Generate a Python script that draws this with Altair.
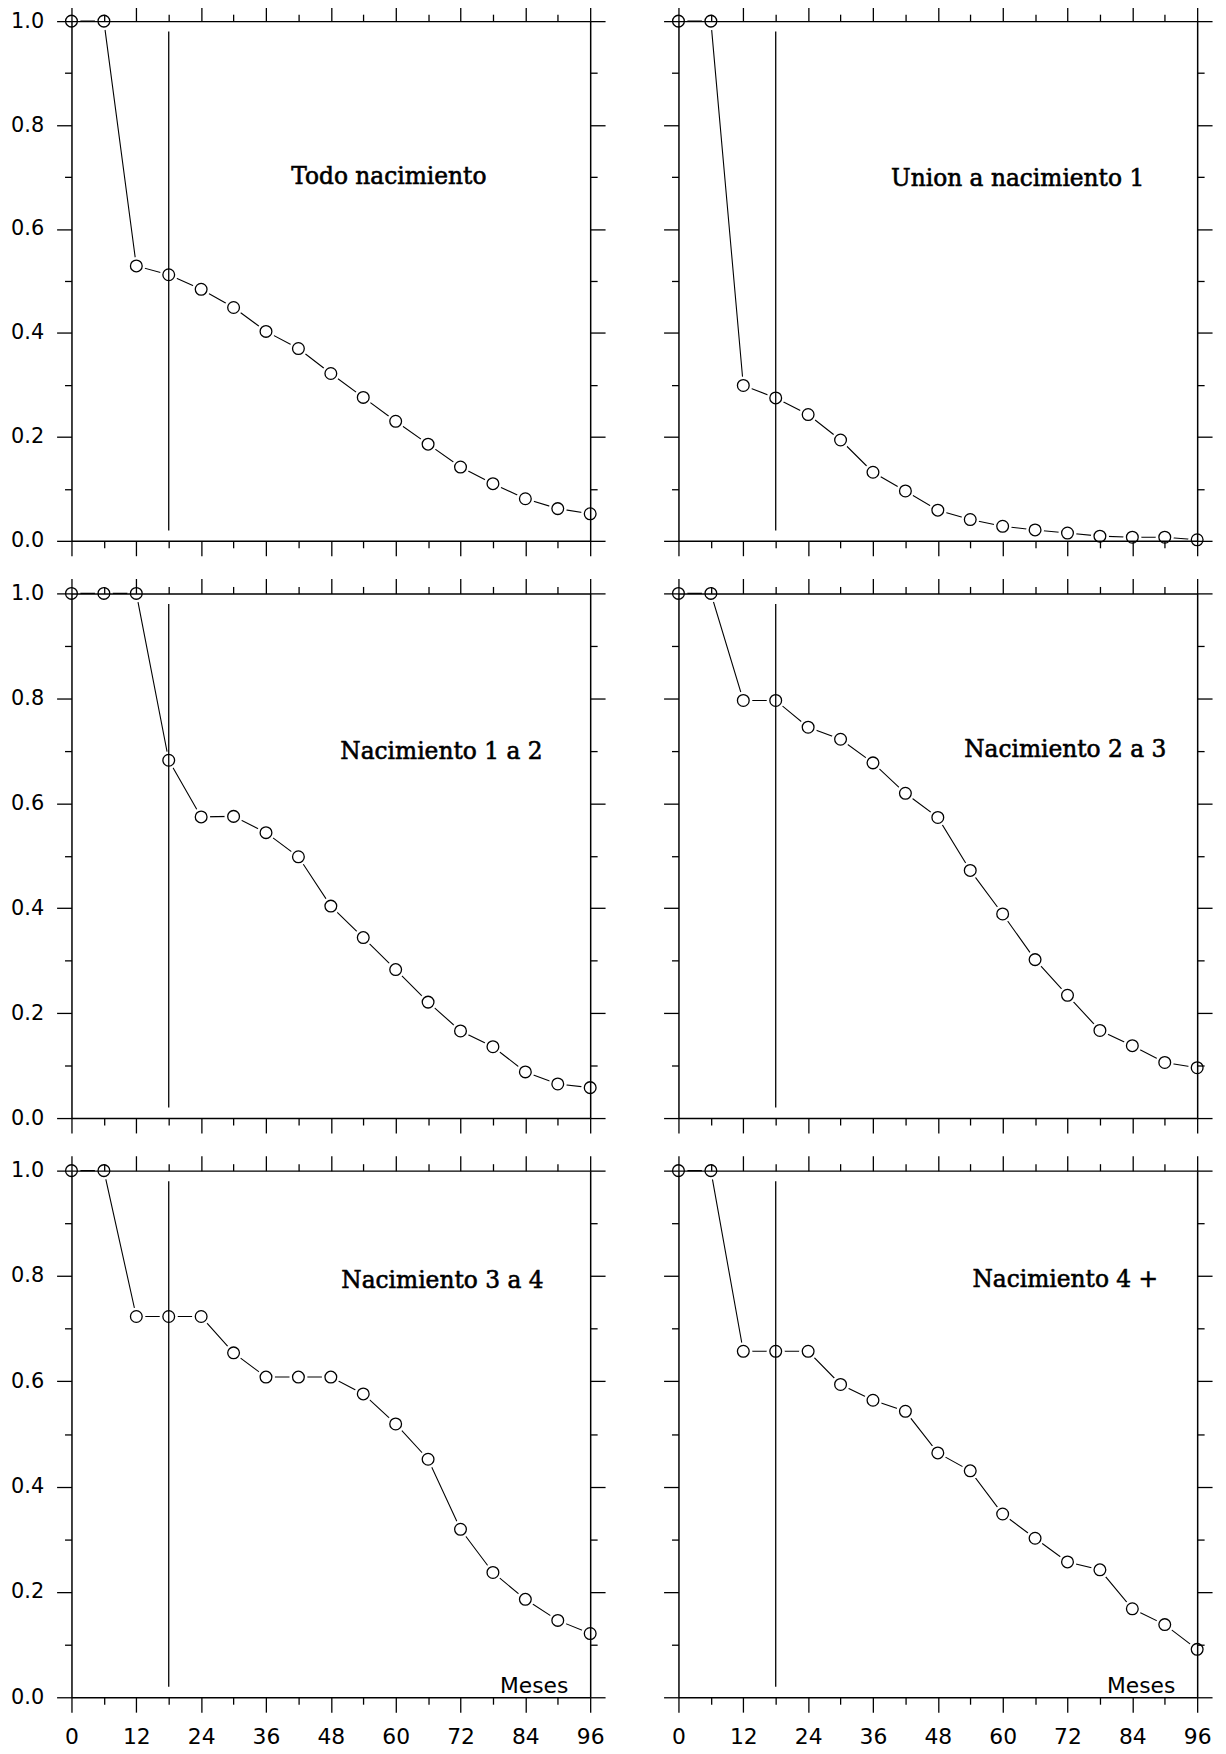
import altair as alt
import pandas as pd

# ---------------- data ----------------
months = [0, 6, 12, 18, 24, 30, 36, 42, 48, 54, 60, 66, 72, 78, 84, 90, 96]

todo_nacimiento = [1.0, 1.0, 0.529, 0.512, 0.484, 0.449, 0.403, 0.370, 0.322,
                   0.276, 0.230, 0.186, 0.142, 0.110, 0.081, 0.062, 0.052]
union_nac1 = [1.0, 1.0, 0.299, 0.275, 0.243, 0.194, 0.132, 0.096, 0.059,
              0.041, 0.028, 0.021, 0.015, 0.009, 0.007, 0.007, 0.002]
nac_1_2 = [1.0, 1.0, 1.0, 0.682, 0.574, 0.575, 0.544, 0.498, 0.404,
           0.344, 0.283, 0.221, 0.166, 0.136, 0.088, 0.065, 0.058]
nac_2_3 = [1.0, 1.0, 0.796, 0.796, 0.745, 0.722, 0.677, 0.619, 0.573,
           0.472, 0.389, 0.302, 0.234, 0.167, 0.138, 0.106, 0.096]
nac_3_4 = [1.0, 1.0, 0.723, 0.723, 0.723, 0.654, 0.608, 0.608, 0.608,
           0.576, 0.519, 0.452, 0.319, 0.237, 0.186, 0.146, 0.121]
nac_4_mas = [1.0, 1.0, 0.657, 0.657, 0.657, 0.594, 0.564, 0.543, 0.464,
             0.430, 0.348, 0.302, 0.257, 0.242, 0.168, 0.138, 0.091]

series = [todo_nacimiento, union_nac1, nac_1_2, nac_2_3, nac_3_4, nac_4_mas]
titles = ["Todo nacimiento", "Union a nacimiento 1", "Nacimiento 1 a 2",
          "Nacimiento 2 a 3", "Nacimiento 3 a 4", "Nacimiento 4 +"]
x_axis_word = "Meses"

ref_month = [18]
ref_low = [0.02]
ref_high = [0.98]

x_major = [0, 12, 24, 36, 48, 60, 72, 84, 96]
x_minor = [6, 18, 30, 42, 54, 66, 78, 90]
y_major = [0.0, 0.2, 0.4, 0.6, 0.8, 1.0]
y_minor = [0.1, 0.3, 0.5, 0.7, 0.9]

# ---------------- layout / style ----------------
PANEL_W = 523
ROW_H = [524, 529, 531]
TITLE_POS = [(320, 164), (342, 166), (373, 167), (390, 165), (374, 118), (390, 117)]
SANS = "DejaVu Sans"
SERIF = "DejaVu Serif"


def axis(orient, values, size, labels, domain, fmt=None, font_size=20, pad=13):
    kw = dict(orient=orient, values=values, tickSize=size, labels=labels,
              domain=domain, domainColor="black", domainWidth=1.5,
              tickColor="black", tickWidth=1.3, grid=False, title=None,
              zindex=1, labelFont=SANS, labelFontSize=font_size,
              labelColor="black", labelPadding=pad, labelFlush=False,
              labelOverlap=False)
    if fmt:
        kw["format"] = fmt
    return alt.Axis(**kw)


def panel(idx):
    col = idx % 2
    row = idx // 2
    h = ROW_H[row]
    show_x = row == 2
    show_y = col == 0

    df = pd.DataFrame({"m": months, "p": series[idx]})
    xs = alt.Scale(domain=[0, 96], nice=False, zero=False)
    ys = alt.Scale(domain=[0, 1], nice=False, zero=False)

    base = alt.Chart(df)
    line = base.mark_line(color="black", strokeWidth=1.1).encode(
        x=alt.X("m:Q", scale=xs,
                axis=axis("bottom", x_major, 15, show_x, True, font_size=22, pad=15)),
        y=alt.Y("p:Q", scale=ys,
                axis=axis("left", y_major, 15, show_y, True, fmt=".1f", font_size=21, pad=13)),
    )
    gaps = base.mark_circle(color="white", size=330, opacity=1).encode(
        x=alt.X("m:Q", scale=xs, axis=axis("bottom", x_minor, 7, False, False)),
        y=alt.Y("p:Q", scale=ys, axis=axis("left", y_minor, 7, False, False)),
    )
    dots = base.mark_point(shape="circle", filled=True, fill="white",
                           stroke="black", strokeWidth=1.3, size=140,
                           opacity=1).encode(
        x=alt.X("m:Q", scale=xs, axis=axis("top", x_major, 15, False, True)),
        y=alt.Y("p:Q", scale=ys, axis=axis("right", y_major, 15, False, True)),
    )
    ref_df = pd.DataFrame({"m": ref_month, "p": ref_low, "p2": ref_high})
    rule = alt.Chart(ref_df).mark_rule(color="black", strokeWidth=1.3).encode(
        x=alt.X("m:Q", scale=xs, axis=axis("top", x_minor, 7, False, False)),
        y=alt.Y("p:Q", scale=ys, axis=axis("right", y_minor, 7, False, False)),
        y2="p2:Q",
    )
    tx, ty = TITLE_POS[idx]
    title = alt.Chart(pd.DataFrame({"t": [titles[idx]]})).mark_text(
        font=SERIF, fontSize=23.5, align="center", baseline="alphabetic",
        color="black", stroke="black", strokeWidth=0.6).encode(
        text="t:N", x=alt.value(tx), y=alt.value(ty))

    layers = [line, gaps, dots, rule, title]
    if show_x:
        meses = alt.Chart(pd.DataFrame({"t": [x_axis_word]})).mark_text(
            font=SANS, fontSize=22, align="right", baseline="alphabetic",
            color="black").encode(text="t:N", x=alt.value(PANEL_W - 22),
                                  y=alt.value(h - 4))
        layers.append(meses)

    return alt.layer(*layers).resolve_axis(
        x="independent", y="independent").properties(width=PANEL_W, height=h)


panels = [panel(i) for i in range(6)]

chart = alt.concat(*panels, columns=2, spacing={"row": 53, "column": 89},
                   bounds="flush").properties(
    padding={"left": 2, "top": -10, "right": 5, "bottom": 5},
    background="white",
).configure_view(stroke=None)

chart.save("out.html", embed_options={"renderer": "svg", "actions": False})
